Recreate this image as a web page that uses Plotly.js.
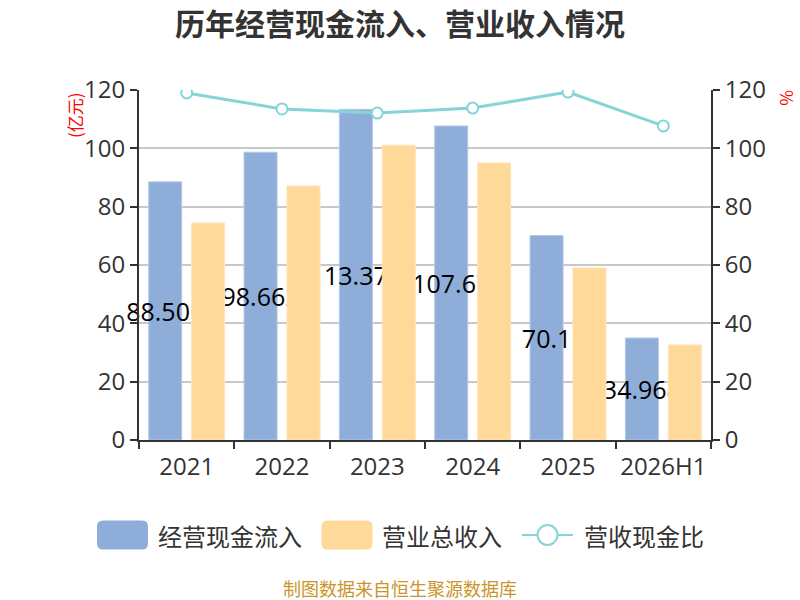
<!DOCTYPE html>
<html>
<head>
<meta charset="utf-8">
<script src="https://cdn.plot.ly/plotly-3.0.1.min.js"></script>
<style>
  body { margin: 0; background: #fff; }
  #chart { width: 800px; height: 600px; }
</style>
</head>
<body>
<div id="chart"></div>
<script>
const years = ["2021", "2022", "2023", "2024", "2025", "2026H1"];
const cashIn = [88.506, 98.662, 113.372, 107.67, 70.1, 34.968];
const revenue = [74.4, 87.1, 101.1, 95.0, 59.0, 32.6];
const ratio = [119.0, 113.5, 112.1, 113.8, 119.3, 107.7];
const seriesNames = ["经营现金流入", "营业总收入", "营收现金比"];

const FONT = '"Noto Sans CJK SC", "Microsoft YaHei", sans-serif';
const NUMFONT = '"Open Sans", "Noto Sans CJK SC", sans-serif';
const BLUE = '#8eaed9';
const ORANGE = '#ffd99a';
const TEAL = '#86d4d8';

// plot area in pixels: x 139..711, y 90..440
const px = x => (x - 139) / 572;
const py = y => (440 - y) / 350;

function roundRect(w, h, r) {
  const a = w / 2, b = h / 2;
  return `M ${-a + r},${-b} L ${a - r},${-b} Q ${a},${-b} ${a},${-b + r} ` +
    `L ${a},${b - r} Q ${a},${b} ${a - r},${b} L ${-a + r},${b} ` +
    `Q ${-a},${b} ${-a},${b - r} L ${-a},${-b + r} Q ${-a},${-b} ${-a + r},${-b} Z`;
}

const traces = [
  {
    x: years, y: cashIn, name: seriesNames[0], type: 'bar',
    marker: { color: BLUE, line: { color: '#b4c9e6', width: 1 } },
    text: cashIn.map(v => String(v)),
    textposition: 'inside', insidetextanchor: 'middle',
    constraintext: 'none', textangle: 0, cliponaxis: false,
    textfont: { family: NUMFONT, size: 25, color: '#000' },
    hoverinfo: 'skip'
  },
  {
    x: years, y: revenue, name: seriesNames[1], type: 'bar',
    marker: { color: ORANGE, line: { color: '#ffe4b8', width: 1 } },
    cliponaxis: false,
    hoverinfo: 'skip'
  },
  {
    x: years, y: ratio, name: seriesNames[2], type: 'scatter',
    mode: 'lines+markers', yaxis: 'y2',
    line: { color: TEAL, width: 3 },
    marker: { symbol: 'circle', size: 11, color: '#fff', line: { color: TEAL, width: 2 } },
    hoverinfo: 'skip'
  }
];

const axisFont = { family: NUMFONT, size: 24, color: '#333' };

const legendShapes = [
  { type: 'path', xref: 'paper', yref: 'paper', xsizemode: 'pixel', ysizemode: 'pixel',
    xanchor: px(122.5), yanchor: py(535), path: roundRect(51, 29, 6),
    fillcolor: BLUE, line: { width: 0 } },
  { type: 'path', xref: 'paper', yref: 'paper', xsizemode: 'pixel', ysizemode: 'pixel',
    xanchor: px(347), yanchor: py(535), path: roundRect(51, 29, 6),
    fillcolor: ORANGE, line: { width: 0 } },
  { type: 'line', xref: 'paper', yref: 'paper', x0: px(522), x1: px(573), y0: py(535), y1: py(535),
    line: { color: TEAL, width: 2 } },
  { type: 'circle', xref: 'paper', yref: 'paper', xsizemode: 'pixel', ysizemode: 'pixel',
    xanchor: px(547.5), yanchor: py(535), x0: -10, x1: 10, y0: -10, y1: 10,
    fillcolor: '#fff', line: { color: TEAL, width: 2 } }
];

const legendText = (x, t) => ({
  xref: 'paper', yref: 'paper', x: px(x), y: py(535), text: t, showarrow: false,
  xanchor: 'left', yanchor: 'middle', font: { family: FONT, size: 24, color: '#333' }
});

const layout = {
  width: 800, height: 600,
  margin: { l: 139, r: 89, t: 90, b: 160 },
  paper_bgcolor: '#fff', plot_bgcolor: '#fff',
  showlegend: false,
  barmode: 'group', bargap: 0.1, bargroupgap: 0.23,
  title: {
    text: '<b>历年经营现金流入、营业收入情况</b>',
    x: 0.5, xanchor: 'center', y: 0.96, yanchor: 'middle',
    font: { family: FONT, size: 30, color: '#333' }
  },
  xaxis: {
    type: 'category', tickson: 'boundaries', ticks: 'outside', ticklen: 7,
    tickwidth: 2, tickcolor: '#333', showline: true, linecolor: '#333', linewidth: 2,
    tickfont: axisFont, tickangle: 0, showgrid: false, zeroline: false, ticklabelstandoff: 4
  },
  yaxis: {
    range: [0, 120], dtick: 20, ticks: 'outside', ticklen: 7, tickwidth: 2,
    tickcolor: '#333', showline: true, linecolor: '#333', linewidth: 2,
    gridcolor: '#c8c8c8', gridwidth: 2, zeroline: false, tickfont: axisFont
  },
  yaxis2: {
    overlaying: 'y', side: 'right', range: [0, 120], dtick: 20,
    ticks: 'outside', ticklen: 7, tickwidth: 2, tickcolor: '#333',
    showline: true, linecolor: '#333', linewidth: 2, showgrid: false,
    zeroline: false, tickfont: axisFont
  },
  shapes: legendShapes,
  annotations: [
    { xref: 'paper', yref: 'paper', x: px(74), y: py(90), text: '(亿元)', showarrow: false,
      textangle: -90, xanchor: 'center', yanchor: 'top',
      font: { family: FONT, size: 17, color: '#ff0000' } },
    { xref: 'paper', yref: 'paper', x: px(787), y: py(88), text: '%', showarrow: false,
      textangle: 90, xanchor: 'center', yanchor: 'top',
      font: { family: FONT, size: 17, color: '#ff0000' } },
    legendText(156, seriesNames[0]),
    legendText(380, seriesNames[1]),
    legendText(582, seriesNames[2]),
    { xref: 'paper', yref: 'paper', x: 0.5 * (px(0) + px(800)), y: py(588),
      text: '制图数据来自恒生聚源数据库', showarrow: false,
      xanchor: 'center', yanchor: 'middle',
      font: { family: FONT, size: 18, color: '#c9952b' } }
  ]
};

Plotly.newPlot('chart', traces, layout, { displayModeBar: false, staticPlot: true });
</script>
</body>
</html>
